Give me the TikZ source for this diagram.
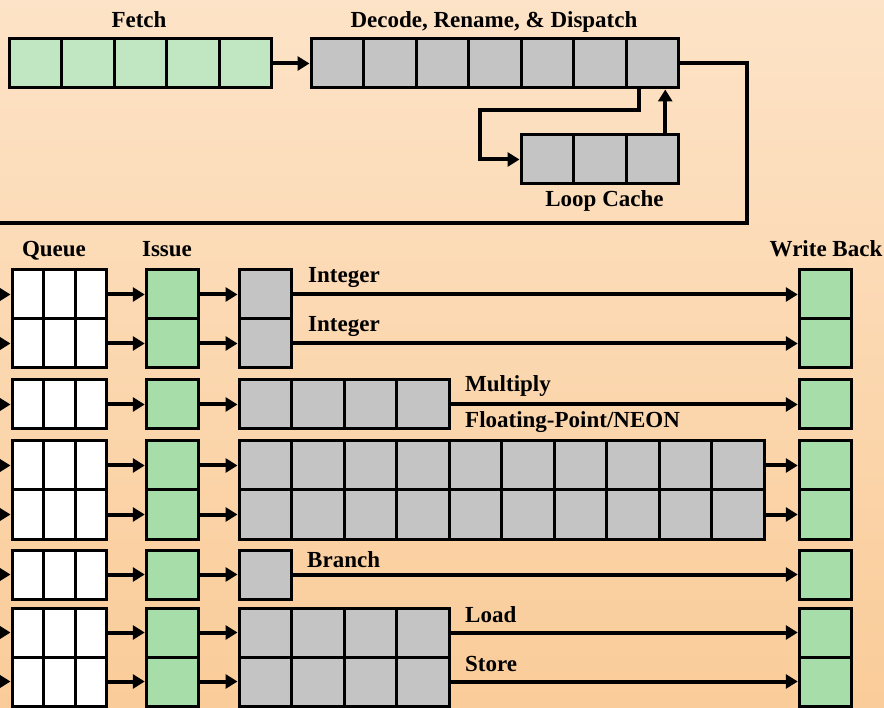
\documentclass[tikz,border=0pt]{standalone}
\usepackage{fontspec}
\setmainfont{Liberation Serif}
\usetikzlibrary{arrows.meta,calc}
\definecolor{bgtop}{RGB}{253,227,199}
\definecolor{bgbot}{RGB}{250,204,153}
\definecolor{fgreen}{RGB}{192,230,194}
\definecolor{igreen}{RGB}{166,221,168}
\definecolor{cellgray}{RGB}{196,196,196}
\begin{document}
\begin{tikzpicture}[x=1pt,y=-1pt,
  cell/.style={draw,line width=3pt,inner sep=0pt,minimum width=52.5pt,minimum height=49pt,fill=cellgray},
  qcell/.style={cell,minimum width=31.5pt,fill=white},
  fcell/.style={cell,fill=fgreen},
  gcell/.style={cell,fill=igreen},
  wire/.style={line width=4pt},
  conn/.style={line width=4pt,-{Triangle[length=12pt,width=14pt]}},
  lbl/.style={font=\fontsize{23}{27}\selectfont\bfseries,inner sep=0pt}]
\useasboundingbox (0,0) rectangle (884,708);
\clip (0,0) rectangle (884,708);
\fill[top color=bgtop,bottom color=bgbot] (0,0) rectangle (884,708);

% Fetch
\foreach \i in {1,...,5}
  \node[fcell] (f\i) at ({9+52.5*(\i-0.5)},63.5) {};
% Decode
\foreach \i in {1,...,7}
  \node[cell] (d\i) at ({311+52.5*(\i-0.5)},63.5) {};
% Loop cache
\foreach \i in {1,...,3}
  \node[cell] (lc\i) at ({521+52.5*(\i-0.5)},159.5) {};

\node[lbl,anchor=base] (tfetch) at (139,28) {Fetch};
\node[lbl,anchor=base] (tdec) at (494,28) {Decode, Rename, \& Dispatch};
\node[lbl,anchor=base] (tloop) at (604.5,207) {Loop Cache};

\draw[conn] (f5.east) -- (d1.west);
\draw[conn] ($(d7.south)+(-13,0)$) -- ++(0,21) -| ($(lc1.west)+(-39.5,0)$) -- (lc1.west);
\draw[conn] ($(lc3.north)+(13,0)$) -- ($(d7.south)+(13,0)$);
\coordinate (fbend) at (-5,223);
\draw[wire] (d7.east) -- (747,63.5) -- (747,223) -- (fbend);

% Lower labels
\node[lbl,anchor=base] (tqueue) at (54,257) {Queue};
\node[lbl,anchor=base] (tissue) at (167,257) {Issue};
\node[lbl,anchor=base] (twb) at (826,257) {Write Back};

% Rows
\foreach \r/\y/\m in {1/294.5/1, 2/343.5/1, 3/404.5/4, 4/465.5/10, 5/514.5/10, 6/574.5/1, 7/632.5/4, 8/681.5/4} {
  \foreach \k in {1,2,3}
    \node[qcell] (q\r-\k) at ({12+31.5*(\k-0.5)},\y) {};
  \node[gcell] (is\r) at (172.5,\y) {};
  \foreach \k in {1,...,\m}
    \node[cell] (ex\r-\k) at ({239+52.5*(\k-0.5)},\y) {};
  \node[gcell] (wb\r) at (825.5,\y) {};
  \coordinate (in\r) at (-12,\y);
  \draw[conn] (in\r) -- (q\r-1.west);
  \draw[conn] (q\r-3.east) -- (is\r.west);
  \draw[conn] (is\r.east) -- (ex\r-1.west);
  \draw[conn] (ex\r-\m.east) -- (wb\r.west);
}

\node[lbl,anchor=base west] (tint1) at (308,283) {Integer};
\node[lbl,anchor=base west] (tint2) at (308,332) {Integer};
\node[lbl,anchor=base west] (tmul) at (465,392) {Multiply};
\node[lbl,anchor=base west] (tfp) at (465,428) {Floating-Point/NEON};
\node[lbl,anchor=base west] (tbr) at (307,567) {Branch};
\node[lbl,anchor=base west] (tld) at (465,622) {Load};
\node[lbl,anchor=base west] (tst) at (465,671) {Store};
\end{tikzpicture}
\end{document}
